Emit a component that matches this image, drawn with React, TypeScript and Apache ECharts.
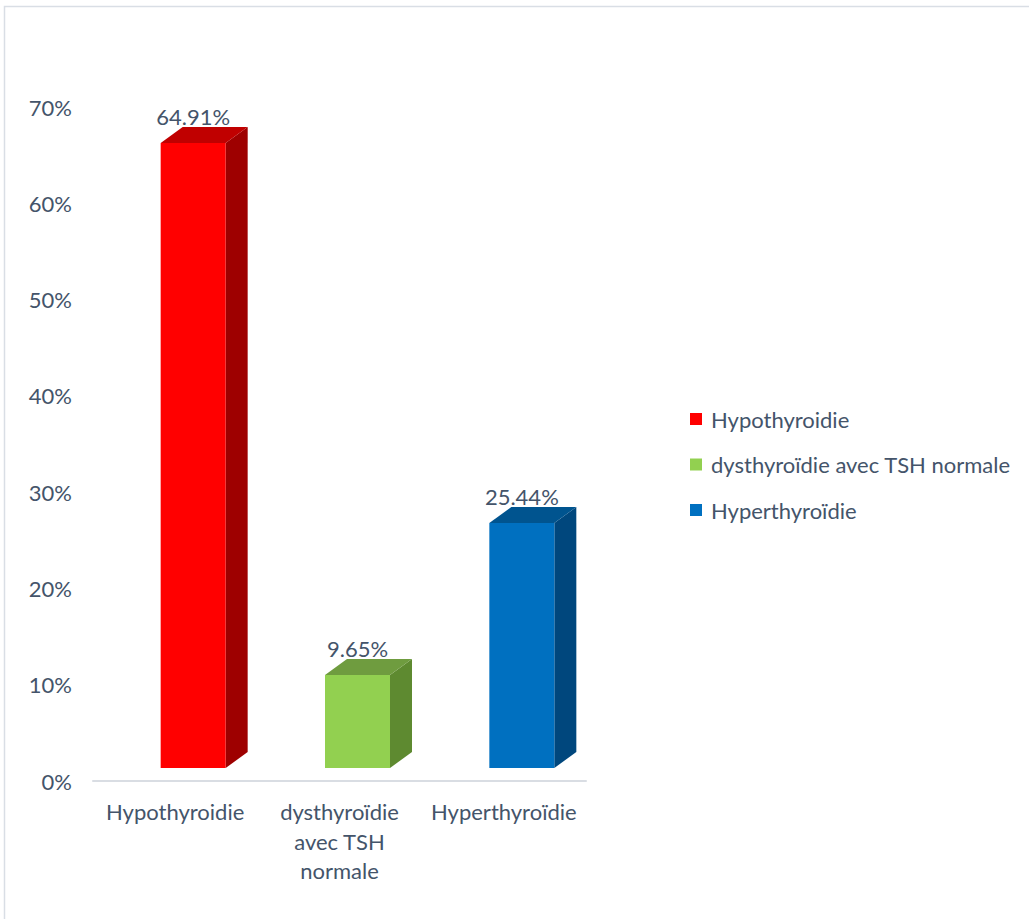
import React, { useEffect, useRef } from "react";
import * as echarts from "echarts";

// Categories and their percentages
const categories = ["Hypothyroidie", "dysthyroïdie\navec TSH\nnormale", "Hyperthyroïdie"];
const seriesNames = ["Hypothyroidie", "dysthyroïdie avec TSH normale", "Hyperthyroïdie"];
const values = [64.91, 9.65, 25.44];
const yTicks = [0, 10, 20, 30, 40, 50, 60, 70];

// Face colours for each box: front, top, side
const frontColors = ["#FF0000", "#92D050", "#0070C0"];
const topColors = ["#C00000", "#6F9C3F", "#00548F"];
const sideColors = ["#9E0000", "#5E8A30", "#00477D"];

const TEXT = "#44546A";
const FONT = "Lato, 'Open Sans', sans-serif";
const FS = 22;

// 3D box geometry (pixels)
const FRONT_W = 65;
const SHIFT_X = -14.5; // front face left edge relative to category centre
const LIFT = 13; // front face raised above the floor line
const DEPTH_X = 22;
const DEPTH_Y = -16;

export default function App() {
  const ref = useRef<HTMLDivElement>(null);

  useEffect(() => {
    document.body.style.margin = "0";
    if (!ref.current) return;
    const chart = echarts.init(ref.current, undefined, { renderer: "svg" });

    const series = values.map((v, i) => ({
      type: "custom",
      name: seriesNames[i],
      itemStyle: { color: frontColors[i] },
      encode: { x: 0, y: 1 },
      data: [[i, v]],
      renderItem: (params: any, api: any) => {
        const idx = api.value(0);
        const val = api.value(1);
        const top = api.coord([idx, val]);
        const base = api.coord([idx, 0]);
        const x0 = top[0] + SHIFT_X;
        const x1 = x0 + FRONT_W;
        const yT = top[1] - LIFT;
        const yB = base[1] - LIFT;
        return {
          type: "group",
          children: [
            {
              type: "polygon",
              shape: { points: [[x1, yT], [x1 + DEPTH_X, yT + DEPTH_Y], [x1 + DEPTH_X, yB + DEPTH_Y], [x1, yB]] },
              style: { fill: sideColors[i] },
            },
            {
              type: "polygon",
              shape: { points: [[x0, yT], [x0 + DEPTH_X, yT + DEPTH_Y], [x1 + DEPTH_X, yT + DEPTH_Y], [x1, yT]] },
              style: { fill: topColors[i] },
            },
            {
              type: "rect",
              shape: { x: x0, y: yT, width: FRONT_W, height: yB - yT },
              style: { fill: frontColors[i] },
            },
            {
              type: "text",
              x: (x0 + x1) / 2,
              y: yT + DEPTH_Y - 11,
              style: {
                text: val.toFixed(2) + "%",
                fill: TEXT,
                font: `${FS}px ${FONT}`,
                align: "center",
                verticalAlign: "middle",
              },
            },
          ],
        };
      },
    }));

    chart.setOption({
      animation: false,
      backgroundColor: "#FFFFFF",
      graphic: [
        {
          type: "rect",
          shape: { x: 4.5, y: 6.5, width: 1200, height: 1200 },
          style: { fill: "none", stroke: "#D9DEE5", lineWidth: 1.5 },
          silent: true,
        },
      ],
      grid: { left: 93, right: 1029 - 586, top: 107, bottom: 919 - 781 },
      legend: {
        orient: "vertical",
        left: 690,
        top: 408,
        padding: 0,
        itemWidth: 12,
        itemHeight: 12,
        itemGap: 23.5,
        icon: "rect",
        data: seriesNames,
        textStyle: { color: TEXT, fontSize: FS, fontFamily: FONT, lineHeight: 20, padding: [0, 0, 0, 4] },
      },
      xAxis: {
        type: "category",
        data: categories,
        axisLine: { show: true, lineStyle: { color: "#D9DDE3", width: 2 } },
        axisTick: { show: false },
        axisLabel: { color: TEXT, fontSize: FS, fontFamily: FONT, lineHeight: 29.5, margin: 16, interval: 0 },
      },
      yAxis: {
        type: "value",
        min: yTicks[0],
        max: yTicks[yTicks.length - 1],
        interval: 10,
        axisLine: { show: false },
        axisTick: { show: false },
        splitLine: { show: false },
        axisLabel: { color: TEXT, fontSize: FS, fontFamily: FONT, formatter: "{value}%", margin: 21 },
      },
      series,
    });

    return () => chart.dispose();
  }, []);

  return <div ref={ref} style={{ width: 1029, height: 919 }} />;
}
